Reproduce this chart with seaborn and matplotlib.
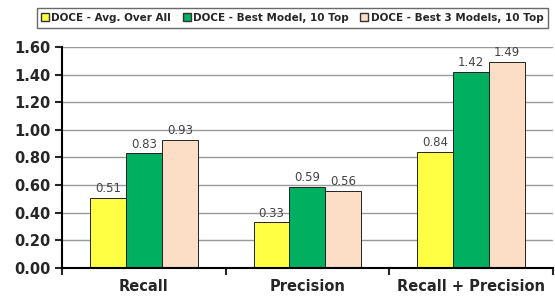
import pandas as pd
import matplotlib.pyplot as plt
import seaborn as sns
from matplotlib.lines import Line2D

categories = ['Recall', 'Precision', 'Recall + Precision']
series = ['DOCE - Avg. Over All', 'DOCE - Best Model, 10 Top', 'DOCE - Best 3 Models, 10 Top']
avg_all = [0.51, 0.33, 0.84]
best_model = [0.83, 0.59, 1.42]
best_3 = [0.93, 0.56, 1.49]
colors = ['#FFFF44', '#00AF60', '#FCDDC6']

df = pd.DataFrame({
    'Metric': categories * 3,
    'Series': [s for s in series for _ in categories],
    'Value': avg_all + best_model + best_3,
})

sns.set_style('white')
fig = plt.figure(figsize=(5.55, 3.07), dpi=100)
ax = fig.add_axes([0.112, 0.127, 0.884, 0.72])

sns.barplot(data=df, x='Metric', y='Value', hue='Series', order=categories,
            hue_order=series, palette=colors, width=0.66, gap=0,
            edgecolor='#222222', linewidth=0.7, saturation=1, legend=False, ax=ax)

for cont in ax.containers:
    ax.bar_label(cont, fmt='%.2f', padding=2, fontsize=8.5, color='#444444')

ax.set_ylim(0, 1.6)
ax.set_yticks([i * 0.2 for i in range(9)])
ax.set_yticklabels(['%.2f' % (i * 0.2) for i in range(9)], fontsize=10.5, fontweight='bold')
ax.yaxis.grid(True, color='#999999', linewidth=1)
ax.set_axisbelow(True)
ax.set_xlim(-0.5, 2.5)
ax.set_xticks([-0.5, 0.5, 1.5, 2.5])
ax.set_xticklabels([])
ax.set_xticks([0, 1, 2], minor=True)
ax.set_xticklabels(categories, minor=True, fontsize=10.5, fontweight='bold')
ax.tick_params(axis='x', which='minor', length=0, pad=8)
ax.tick_params(axis='x', which='major', length=5, width=1.5, direction='out', bottom=True)
ax.tick_params(axis='y', length=5, width=1.5, direction='out', left=True)
ax.set_xlabel('')
ax.set_ylabel('')
for side in ['top', 'right']:
    ax.spines[side].set_visible(False)
for side in ['left', 'bottom']:
    ax.spines[side].set_linewidth(1.5)
    ax.spines[side].set_color('black')

handles = [Line2D([], [], marker='s', linestyle='', markersize=5.5,
                  markerfacecolor=c, markeredgecolor='#333333') for c in colors]
leg = fig.legend(handles, series, loc='upper right', bbox_to_anchor=(0.997, 0.99),
                 ncol=3, frameon=True, fancybox=False, edgecolor='#444444',
                 handlelength=0.6, handletextpad=0.3, columnspacing=1.2,
                 borderpad=0.45, prop={'size': 7.5, 'weight': 'bold'})

fig.savefig('out.png', dpi=100)
